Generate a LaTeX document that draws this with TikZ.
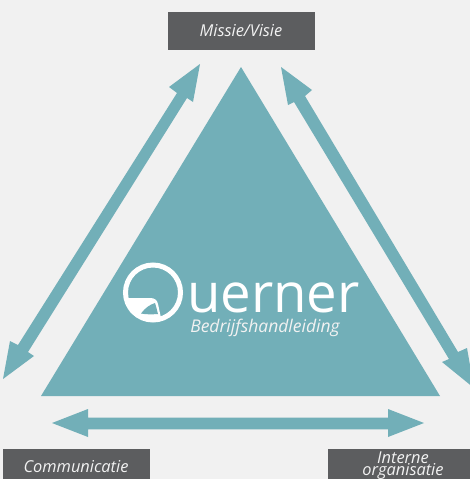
\documentclass[tikz,border=0pt]{standalone}
\usepackage{fontspec}
\setmainfont{Open Sans}
\definecolor{teal1}{HTML}{72AFB8}
\definecolor{bg}{HTML}{F1F1F1}
\definecolor{box}{HTML}{5C5D5F}
\tikzset{
  x=1pt,y=-1pt,
  lab/.style={font=\itshape\fontsize{16.4}{12}\selectfont,text=white!95!black,inner sep=0pt},
  tealshape/.style={fill=teal1,draw=none},
  greybox/.style={fill=box,draw=none}
}
\begin{document}
\begin{tikzpicture}
\useasboundingbox (0,0) rectangle (470,479);
\fill[bg] (0,0) rectangle (470,479);
% boxes
\fill[greybox] (168,12) rectangle (315,50);
\fill[greybox] (3,449) rectangle (150,479);
\fill[greybox] (328,449) rectangle (470,479);
\node[lab] (mv) at (241,30.5) {Missie/Visie};
\node[lab] (co) at (76,466.5) {Communicatie};
\node[lab,align=center] (io) at (403,465.5) {Interne\\[-1pt]organisatie};
% triangle
\fill[tealshape] (241,67) -- (440,396) -- (41,396) -- cycle;
% horizontal arrow
\fill[tealshape] (52,423) -- (88,409) -- (88,417.7) -- (388,417.7) -- (388,409) -- (424,423) -- (388,437) -- (388,429.3) -- (88,429.3) -- (88,437) -- cycle;
% left arrow
\fill[tealshape] (200,64) -- (193,102) -- (187,98) -- (28,352) -- (34,356) -- (3,379) -- (10,341) -- (18,345) -- (177,93) -- (169,87) -- cycle;
% right arrow
\fill[tealshape] (281,67) -- (312,90) -- (305,96) -- (458,352) -- (467,348) -- (474,388) -- (442,362) -- (449,359) -- (294,102) -- (288,105) -- cycle;
% logo
\draw[white,line width=5pt] (153,292.5) circle (27.5);
\fill[white] (128,298) -- (150,298) .. controls (155,298) and (157,300) .. (158,304) -- (161,318) -- (150,322) -- (130,312) -- cycle;
\fill[teal1] (141,313.5) .. controls (145,308) and (150,304.5) .. (155,303) .. controls (156,306) and (157,310) .. (158,314) .. controls (152,314.5) and (146,314.5) .. cycle;
\node[font=\fontsize{54.5}{54}\selectfont,text=white,inner sep=0pt,anchor=base west] (lg) at (187,312) {uerner};
\node[lab,font=\itshape\fontsize{17.5}{14}\selectfont] (bh) at (265,327.5) {Bedrijfshandleiding};
\end{tikzpicture}
\end{document}
